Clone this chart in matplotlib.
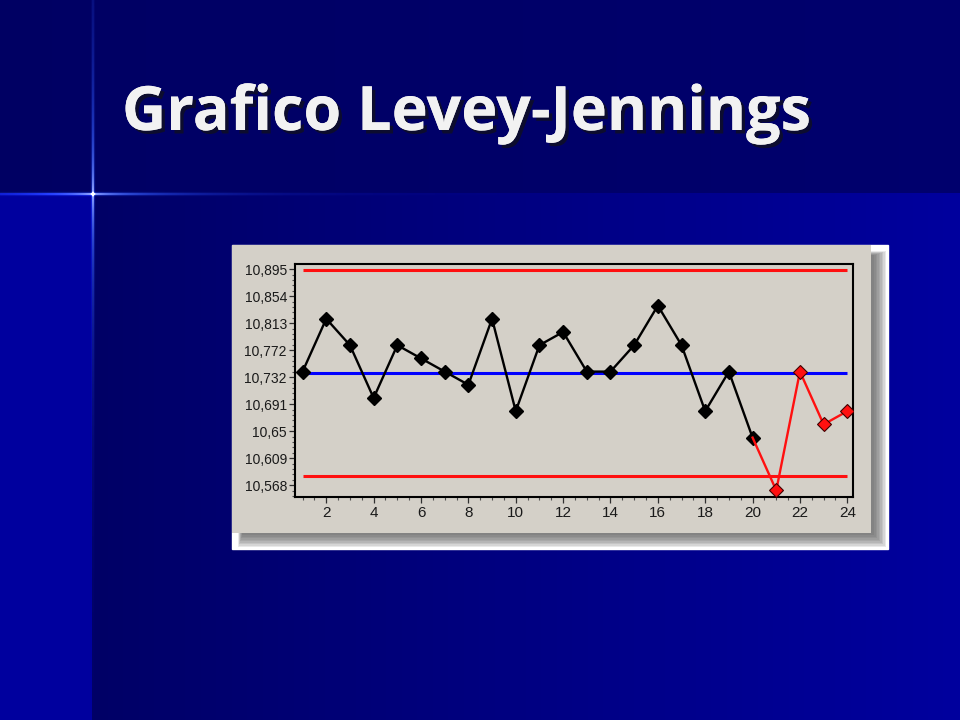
import numpy as np
import matplotlib.pyplot as plt
from matplotlib.patches import Rectangle
from matplotlib.ticker import FixedLocator, MultipleLocator, AutoMinorLocator
import matplotlib.patheffects as pe

# data
runs = list(range(1, 25))
values = [10.74, 10.82, 10.78, 10.70, 10.78, 10.76, 10.74, 10.72, 10.82, 10.68,
          10.78, 10.80, 10.74, 10.74, 10.78, 10.84, 10.78, 10.68, 10.74, 10.64,
          10.56, 10.74, 10.66, 10.68]
mean_value = 10.738
upper_limit = 10.894
lower_limit = 10.582
ytick_labels = ['10,568', '10,609', '10,65', '10,691', '10,732',
                '10,772', '10,813', '10,854', '10,895']
xtick_values = list(range(2, 25, 2))
first_red = 20  # from this run the line turns red

W, H = 960, 720
fig = plt.figure(figsize=(W / 100, H / 100), dpi=100)

# slide background
yy, xx = np.mgrid[0:H, 0:W].astype(float)
bg = np.zeros((H, W, 3))
top = yy < 193
left = (xx < 92) & ~top
rest = ~top & ~left
bg[..., 2] = np.where(top, 0.39 + 0.04 * xx / W, 0)
bg[..., 2] = np.where(left, 0.62, bg[..., 2])
bg[..., 2] = np.where(rest, 0.40 + 0.22 * (xx - 92) / (W - 92), bg[..., 2])
# glowing cross
glow_v = np.exp(-((xx - 92.5) ** 2) / 2.0) * np.exp(-np.abs(yy - 193) / 110)
glow_h = np.exp(-((yy - 193.5) ** 2) / 2.0) * np.exp(-np.abs(xx - 92) / 90)
glow = np.clip(glow_v + glow_h, 0, 1)
bg[..., 0] += 0.20 * glow + 0.80 * glow ** 5
bg[..., 1] += 0.40 * glow + 0.60 * glow ** 5
bg[..., 2] += 0.7 * glow
bg = np.clip(bg, 0, 1)
bg_ax = fig.add_axes([0, 0, 1, 1])
bg_ax.imshow(bg, aspect='auto', extent=(0, W, H, 0))
bg_ax.set_xlim(0, W)
bg_ax.set_ylim(H, 0)
bg_ax.axis('off')

# title with drop shadow
fig.text(122 / W, 1 - 130 / H, 'Grafico Levey-Jennings', fontsize=44,
         fontweight='bold', family='Open Sans', color='#f2f2f2', va='baseline',
         path_effects=[pe.withSimplePatchShadow(offset=(2.5, -2.5),
                                                shadow_rgbFace='#101020', alpha=0.8),
                       pe.Normal()])

# chart picture: white frame, shadow, gray panel
bg_ax.add_patch(Rectangle((232, 245), 656, 304, color='white', zorder=2))
for i in range(9):
    bg_ax.add_patch(Rectangle((238 + i * 0.5, 251 + i * 0.5), 648 - 2 * i, 296 - 2 * i,
                              color='#505050', alpha=0.12, lw=0, zorder=3))
bg_ax.add_patch(Rectangle((232, 245), 639, 288, color='#d4d0c8', lw=0, zorder=4))

ax = fig.add_axes([295 / W, 1 - 497 / H, 558 / W, 233 / H], facecolor='#d4d0c8')
ax.hlines([upper_limit, lower_limit], runs[0], runs[-1], color='#ff1010', lw=2.2, zorder=2)
ax.hlines(mean_value, runs[0], runs[-1], color='#0000ff', lw=2.2, zorder=2)

k = first_red
ax.plot(runs[:k], values[:k], color='black', lw=1.7, marker='D', ms=7,
        mfc='black', mec='black', zorder=3)
ax.plot(runs[k - 1:], values[k - 1:], color='#ff1010', lw=1.7, zorder=3)
ax.plot(runs[k:], values[k:], ls='none', marker='D', ms=7,
        mfc='#ff1010', mec='#400000', mew=0.8, zorder=4)

ax.set_xlim(0.68, 24.24)
ax.set_ylim(10.550, 10.903)
yticks = np.linspace(10.568, 10.895, len(ytick_labels))
ax.yaxis.set_major_locator(FixedLocator(yticks))
ax.set_yticklabels(ytick_labels)
ax.yaxis.set_minor_locator(AutoMinorLocator(5))
ax.set_xticks(xtick_values)
ax.set_xticklabels([str(v) for v in xtick_values])
ax.xaxis.set_minor_locator(MultipleLocator(0.5))
ax.tick_params(which='major', length=4.3, width=0.9, color='#303030',
               labelcolor='#1a1a1a', pad=1.5)
ax.tick_params(which='minor', length=2.2, width=0.8, color='#505050')
ax.tick_params(axis='y', which='major', labelsize=10)
ax.tick_params(axis='x', which='major', labelsize=11, pad=2.5)
for lbl in ax.get_xticklabels() + ax.get_yticklabels():
    lbl.set_family('Liberation Sans')
for side in ax.spines.values():
    side.set_linewidth(1.5)
    side.set_color('black')

fig.savefig('out.png', dpi=100)
